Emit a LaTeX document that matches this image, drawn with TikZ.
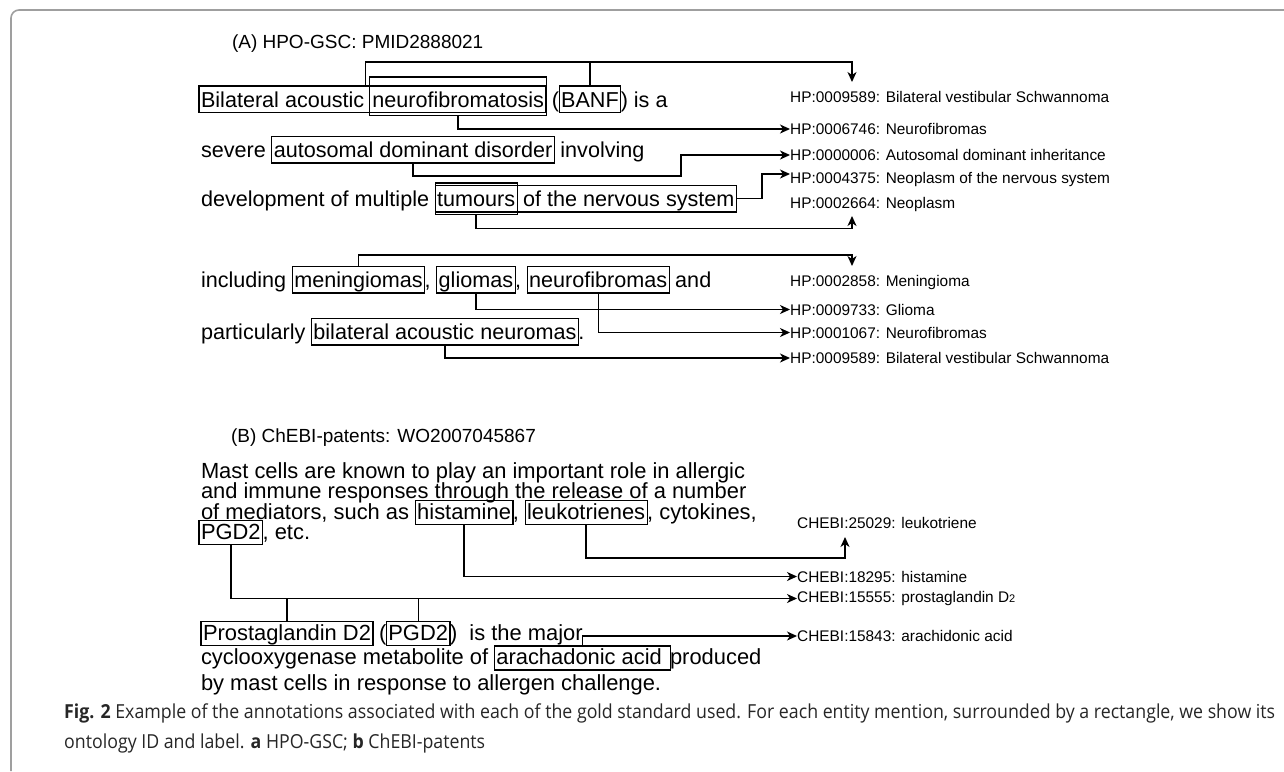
\documentclass[tikz,border=0pt]{standalone}
\usepackage{fontspec}
\setmainfont{Liberation Sans}
\newfontfamily\capfont{Open Sans}[FakeStretch=0.92]
\usetikzlibrary{arrows.meta,fit,calc}

\newcommand\bodyfont{\fontsize{21.6}{26}\selectfont}
\newcommand\bodyfontB{\fontsize{21.9}{26}\selectfont}
\newcommand\headfont{\fontsize{19}{23}\selectfont}
\newcommand\labfont{\fontsize{15.4}{18}\selectfont}
\newcommand\capsize{\capfont\fontsize{19.3}{30}\selectfont}
\newcommand\wsp{\ \null}

\begin{document}
\begin{tikzpicture}[x=1pt, y=-1pt,
  txt/.style={inner sep=0pt, outer sep=0pt, anchor=base west, font=\bodyfont},
  wd/.style={txt, inner xsep=2pt, inner ysep=3pt, text height=18pt, text depth=2.5pt},
  wd0/.style={wd, inner xsep=0pt},
  ent/.style={wd, draw, line width=1.1pt},
  txtB/.style={txt, font=\bodyfontB},
  entB/.style={ent, font=\bodyfontB, text height=15.5pt, text depth=2.5pt},
  box/.style={draw, line width=1.1pt, inner sep=0pt},
  lab/.style={anchor=west, inner sep=0pt, font=\labfont},
  con/.style={line width=1.4pt},
  arr/.style={con, -{Stealth[length=10pt, width=9pt, inset=3pt]}},
  capline/.style={anchor=base west, inner sep=0pt, font=\capsize, text=black!85}
]
\useasboundingbox (0,0) rectangle (1284,771);
% frame
\draw[gray!75, line width=1.6pt, rounded corners=8pt] (11,771) |- (1284,10);

% (A) HPO-GSC
\node[txt, font=\headfont] (hA) at (232,48) {(A) HPO-GSC: PMID2888021};

\node[wd0] (bilac) at (201,107) {Bilateral acoustic\wsp};
\node[wd] (neuro) at (bilac.base east) {neurofibromatosis};
\node[txt] (l1a) at (neuro.base east) {\ (};
\node[ent] (banf) at (l1a.base east) {BANF};
\node[txt] (l1b) at (banf.base east) {) is a};
\coordinate (bilacw) at ([xshift=-2pt]bilac.west);
\node[box, fit=(bilacw)(bilac)(neuro)] (bilacbox) {};
\node[box, fit=(neuro), inner xsep=0.5pt, inner ysep=6pt, yshift=3pt] (neurobox) {};

\node[txt] (l2a) at (201,157.5) {severe\wsp};
\node[ent] (auto) at (l2a.base east) {autosomal dominant disorder};
\node[txt] (l2b) at (auto.base east) {\ involving};

\node[txt] (l3a) at (201,206.5) {development of multiple\wsp};
\node[wd] (tum) at (l3a.base east) {tumours};
\node[wd0] (tumrest) at (tum.base east) {\ of the nervous system};
\coordinate (tumreste) at ([xshift=2pt]tumrest.east);
\node[box, fit=(tum)(tumrest)(tumreste)] (tumsys) {};
\node[box, fit=(tum), inner sep=0pt, inner ysep=2.5pt] (tumbox) {};

\node[txt] (l4a) at (201,287.5) {including\wsp};
\node[ent] (menin) at (l4a.base east) {meningiomas};
\node[txt] (l4b) at (menin.base east) {,\wsp};
\node[ent] (glio) at (l4b.base east) {gliomas};
\node[txt] (l4c) at (glio.base east) {,\wsp};
\node[ent] (nfib) at (l4c.base east) {neurofibromas};
\node[txt] (l4d) at (nfib.base east) {\ and};

\node[txt] (l5a) at (201,339.5) {particularly\wsp};
\node[ent] (bneur) at (l5a.base east) {bilateral acoustic neuromas};
\node[txt] (l5b) at (bneur.base east) {.};

\node[lab] (hp1) at (790,97) {HP:0009589: Bilateral vestibular Schwannoma};
\node[lab] (hp2) at (790,129) {HP:0006746: Neurofibromas};
\node[lab] (hp3) at (790,155) {HP:0000006: Autosomal dominant inheritance};
\node[lab] (hp4) at (790,180) {HP:0004375: Neoplasm of the nervous system};
\node[lab] (hp5) at (790,205) {HP:0002664: Neoplasm};
\node[lab] (hp6) at (790,282.5) {HP:0002858: Meningioma};
\node[lab] (hp7) at (790,309.5) {HP:0009733: Glioma};
\node[lab] (hp8) at (790,332.5) {HP:0001067: Neurofibromas};
\node[lab] (hp9) at (790,358) {HP:0009589: Bilateral vestibular Schwannoma};

\coordinate (jA) at (852,62);
\coordinate (tA) at (852,82);
\draw[arr] ($(neurobox.west |- bilacbox.north)+(-4,0)$) |- (jA) -- (tA);
\draw[con] (banf.north) -- (banf.north |- jA);
\draw[arr] (neurobox.south) |- (hp2.west);
\coordinate (jB) at (681,176);
\draw[arr] (auto.south) |- (jB) |- (hp3.west);
\coordinate (jC) at (762,199);
\draw[arr] (tumsys.east) -- (tumsys.east -| jC) |- ([yshift=6pt]hp4.west);
\coordinate (jD) at (852,228.5);
\coordinate (tD) at (852,216);
\draw[arr] (tumbox.south) |- (jD) -- (tD);

\coordinate (jE) at (852,255);
\coordinate (tE) at (852,266);
\draw[arr] (menin.north) |- (jE) -- (tE);
\draw[arr] (glio.south) |- (hp7.west);
\draw[arr] (nfib.south) |- (hp8.west);
\draw[arr] (bneur.south) |- (hp9.west);

% (B) ChEBI-patents
\node[txt, font=\headfont] (hB) at (231,442) {(B) ChEBI-patents: WO2007045867};

\node[txtB] (m1) at (201,478.5) {Mast cells are known to play an important role in allergic};
\node[txtB] (m2) at (201,498.5) {and immune responses through the release of a number};
\node[txtB] (m3a) at (201,519) {of mediators, such as\wsp};
\node[entB] (hist) at (m3a.base east) {histamine};
\node[txtB] (m3b) at (hist.base east) {,\wsp};
\node[entB] (leuk) at (m3b.base east) {leukotrienes};
\node[txtB] (m3c) at (leuk.base east) {, cytokines,};
\node[entB] (pgda) at (199,539) {PGD2};
\node[txtB] (m4) at (pgda.base east) {, etc.};

\node[entB] (pgdn) at (201,640) {Prostaglandin D2};
\node[txtB] (p1a) at (pgdn.base east) {\ (};
\node[entB] (pgdb) at (p1a.base east) {PGD2};
\node[txtB] (p1b) at (pgdb.base east) {)\ \ is the major};
\node[txtB] (p2a) at (201,664.5) {cyclooxygenase metabolite of\wsp};
\node[entB] (arach) at (p2a.base east) {arachadonic acid\wsp};
\node[txtB] (p2b) at (arach.base east) {produced};
\node[txtB] (p3) at (201,690) {by mast cells in response to allergen challenge.};

\node[lab] (ch1) at (797,523) {CHEBI:25029: leukotriene};
\node[lab] (ch2) at (797,576.5) {CHEBI:18295: histamine};
\node[lab] (ch3) at (797,598.5) {CHEBI:15555: prostaglandin D{\fontsize{11}{11}\selectfont 2}};
\node[lab] (ch4) at (797,636) {CHEBI:15843: arachidonic acid};

\coordinate (jF) at (845,558);
\coordinate (tF) at (845,537);
\draw[arr] (leuk.south) |- (jF) -- (tF);
\draw[arr] (hist.south) |- (ch2.west);
\draw[arr] (pgda.south) |- (ch3.west);
\draw[con] (pgdn.north) -- (pgdn.north |- ch3.west);
\draw[con] (pgdb.north) -- (pgdb.north |- ch3.west);
\draw[arr] (arach.north) |- (ch4.west);

% caption
\node[capline] (cap1) at (64,718) {\textbf{Fig. 2} Example of the annotations associated with each of the gold standard used. For each entity mention, surrounded by a rectangle, we show its};
\node[capline] (cap2) at (64,748) {ontology ID and label. \textbf{a} HPO-GSC; \textbf{b} ChEBI-patents};
\end{tikzpicture}
\end{document}
